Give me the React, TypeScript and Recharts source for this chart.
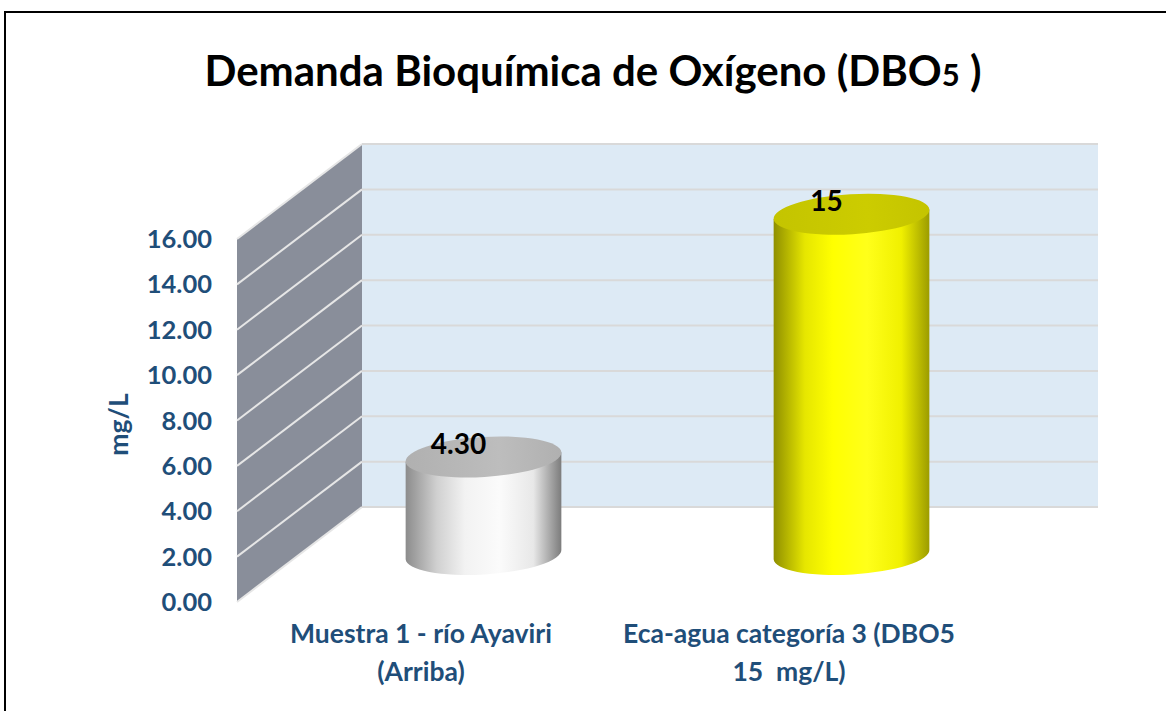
import React from 'react';
import { BarChart, Bar, XAxis, YAxis, ReferenceArea, ReferenceLine, LabelList } from 'recharts';

// ---- data ----
const categories = ['Muestra 1 - río Ayaviri\n(Arriba)', 'Eca-agua categoría 3 (DBO5\n15  mg/L)'];
const values = [4.3, 15];
const valueLabels = ['4.30', '15'];
const yTicks = [0, 2, 4, 6, 8, 10, 12, 14, 16];
const wallBands = yTicks.slice(0, -1);

const data = categories.map((c, i) => ({ name: c, value: values[i], label: valueLabels[i] }));

// ---- styling constants ----
const DX = 125; // depth offset (x)
const DY = -95; // depth offset (y)
const TILT = 3.5;
const BLUE = '#1F4E79';
const FONT = 'Lato, "Open Sans", sans-serif';

const palettes = [
  { stops: ['#8c8c8c', '#d0d0d0', '#f2f2f2', '#fbfbfb', '#e8e8e8', '#7c7c7c'], top: '#b0b0b0', topHi: '#bdbdbd' },
  { stops: ['#8f8f00', '#e6e600', '#ffff00', '#ffff1a', '#f0f000', '#9c9c00'], top: '#c4c400', topHi: '#cccc00' },
];

const WallBand = (props: any) => {
  const { x, y, width, height } = props;
  return (
    <g>
      <polygon
        points={`${x},${y} ${x + DX},${y + DY} ${x + DX},${y + DY + height} ${x},${y + height}`}
        fill="#898E9A"
      />
      <rect x={x + DX} y={y + DY} width={width} height={height} fill="#DDEAF5" />
    </g>
  );
};

const WallLine = (props: any) => {
  const { x1, y1, x2 } = props;
  return (
    <g>
      <line x1={x1} y1={y1} x2={x1 + DX} y2={y1 + DY} stroke="#E6E6E6" strokeWidth={2} />
      <line x1={x1 + DX} y1={y1 + DY} x2={x2 + DX} y2={y1 + DY} stroke="#D9D9D9" strokeWidth={2} />
    </g>
  );
};

const Cylinder = (props: any) => {
  const { x, y, width, height, index } = props;
  const p = palettes[index % palettes.length];
  const rx = width / 2;
  const ry = 20;
  const cx = x + width / 2 + DX / 2;
  const top = y + DY / 2;
  const bottom = y + height + DY / 2;
  const t = (TILT * Math.PI) / 180;
  const ox = rx * Math.cos(t);
  const oy = rx * Math.sin(t);
  const id = `cylgrad${index}`;
  const tid = `cyltop${index}`;
  const d = `M${cx - ox},${top + oy} L${cx - ox},${bottom + oy} A${rx},${ry} ${-TILT} 0 0 ${cx + ox},${bottom - oy} L${cx + ox},${top - oy} Z`;
  return (
    <g>
      <defs>
        <linearGradient id={id} x1="0" y1="0" x2="1" y2="0">
          <stop offset="0%" stopColor={p.stops[0]} />
          <stop offset="20%" stopColor={p.stops[1]} />
          <stop offset="38%" stopColor={p.stops[2]} />
          <stop offset="60%" stopColor={p.stops[3]} />
          <stop offset="82%" stopColor={p.stops[4]} />
          <stop offset="100%" stopColor={p.stops[5]} />
        </linearGradient>
        <linearGradient id={tid} x1="0" y1="0" x2="1" y2="0">
          <stop offset="0%" stopColor={p.top} />
          <stop offset="60%" stopColor={p.topHi} />
          <stop offset="100%" stopColor={p.top} />
        </linearGradient>
      </defs>
      <path d={d} fill={`url(#${id})`} />
      <ellipse cx={cx} cy={top} rx={rx} ry={ry} fill={`url(#${tid})`} transform={`rotate(${-TILT} ${cx} ${top})`} />
    </g>
  );
};

const ValueLabel = (props: any) => {
  const vb = props.viewBox || props;
  const { x, y, width } = vb;
  const cx = x + width / 2 + DX / 2 - 25;
  const cy = y + DY / 2 - 14;
  return (
    <text x={cx} y={cy} textAnchor="middle" dominantBaseline="central" fontFamily={FONT} fontWeight={700} fontSize={28} fill="#000">
      {props.value}
    </text>
  );
};

const CategoryTick = (props: any) => {
  const { x, y, payload } = props;
  const lines = String(payload.value).split('\n');
  return (
    <text x={x} y={y} textAnchor="middle" fontFamily={FONT} fontWeight={700} fontSize={26.5} fill={BLUE} style={{ whiteSpace: 'pre' }}>
      {lines.map((l, i) => (
        <tspan key={i} x={x} dy={i === 0 ? 33 : 38}>
          {l}
        </tspan>
      ))}
    </text>
  );
};

const YTitle = (props: any) => {
  const vb = props.viewBox;
  const cx = vb.x - 39;
  const cy = vb.y + vb.height / 2 + 4;
  return (
    <text x={cx} y={cy} textAnchor="middle" dominantBaseline="central" transform={`rotate(-90 ${cx} ${cy})`} fontFamily={FONT} fontWeight={700} fontSize={26.5} fill={BLUE}>
      mg/L
    </text>
  );
};

export default function App() {
  return (
    <div style={{ position: 'absolute', left: 0, top: 0, width: 1166, height: 711, overflow: 'hidden', background: '#fff' }}>
      <div
        style={{
          position: 'absolute',
          left: 4,
          top: 11,
          width: 1200,
          height: 760,
          border: '2.5px solid #000',
          boxSizing: 'border-box',
        }}
      />
      <div
        style={{
          position: 'absolute',
          left: 0,
          top: 44,
          width: 1186,
          textAlign: 'center',
          fontFamily: FONT,
          fontWeight: 700,
          fontSize: 42,
          color: '#000',
          lineHeight: '52px',
          whiteSpace: 'nowrap',
        }}
      >
        Demanda Bioquímica de Oxígeno (DBO<span style={{ fontSize: 31 }}>5</span> )
      </div>
      <div style={{ position: 'absolute', left: 0, top: 0 }}>
        <BarChart width={1166} height={711} data={data} margin={{ top: 239, right: 193, bottom: 9, left: 157 }}>
          {wallBands.map((b, i) => (
            <ReferenceArea key={`ra${i}`} y1={b} y2={yTicks[i + 1]} shape={WallBand} zIndex={-300} ifOverflow="visible" />
          ))}
          {yTicks.map((t) => (
            <ReferenceLine key={`rl${t}`} y={t} shape={WallLine} zIndex={-200} ifOverflow="visible" />
          ))}
          <XAxis dataKey="name" axisLine={false} tickLine={false} height={100} tick={CategoryTick} interval={0} />
          <YAxis
            domain={[0, 16]}
            ticks={yTicks}
            interval={0}
            axisLine={false}
            tickLine={false}
            width={80}
            tickMargin={19}
            tickFormatter={(v: number) => v.toFixed(2)}
            tick={{ fill: BLUE, fontSize: 25.5, fontWeight: 700, fontFamily: FONT }}
            label={{ content: YTitle }}
          />
          <Bar dataKey="value" barSize={156} shape={Cylinder} isAnimationActive={false}>
            <LabelList dataKey="label" content={ValueLabel} />
          </Bar>
        </BarChart>
      </div>
    </div>
  );
}
